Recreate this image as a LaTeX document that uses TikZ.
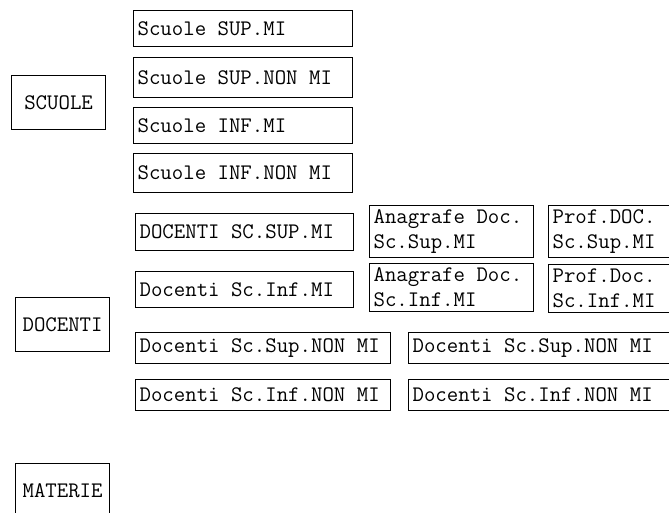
\documentclass[tikz,border=0pt]{standalone}
\begin{document}
\begin{tikzpicture}[x=1pt,y=-1pt,
  box/.style={draw,line width=1.2pt,rectangle,anchor=north west,
    inner xsep=4pt,inner ysep=0pt,align=flush left,
    font=\ttfamily\fontsize{22.2}{25}\selectfont},
  mainbox/.style={box,align=flush center,text width=86pt,minimum height=54pt}]
\useasboundingbox (0,0) rectangle (669,513);
\clip (0,0) rectangle (669,513);

\node[mainbox] (scuole) at (11,75) {SCUOLE};
\node[mainbox] (docenti) at (15,297) {DOCENTI};
\node[mainbox] (materie) at (15,463) {MATERIE};

\node[box,text width=211pt,minimum height=36pt] (s1) at (133,10) {Scuole SUP.MI};
\node[box,text width=211pt,minimum height=40pt] (s2) at (133,57) {Scuole SUP.NON MI};
\node[box,text width=211pt,minimum height=36pt] (s3) at (133,107) {Scuole INF.MI};
\node[box,text width=211pt,minimum height=39pt] (s4) at (133,153) {Scuole INF.NON MI};

\node[box,text width=210pt,minimum height=37pt] (d1) at (135,213) {DOCENTI SC.SUP.MI};
\node[box,text width=210pt,minimum height=36pt] (d2) at (135,271) {Docenti Sc.Inf.MI};
\node[box,text width=156pt,minimum height=52pt] (a1) at (369,205) {Anagrafe Doc.\\Sc.Sup.MI};
\node[box,text width=156pt,minimum height=48pt] (a2) at (369,263) {Anagrafe Doc.\\Sc.Inf.MI};
\node[box,text width=140pt,minimum height=52pt] (p1) at (548,205) {Prof.DOC.\\Sc.Sup.MI};
\node[box,text width=140pt,minimum height=48pt] (p2) at (548,264) {Prof.Doc.\\Sc.Inf.MI};

\node[box,text width=247pt,minimum height=31pt] (n1) at (135,332) {Docenti Sc.Sup.NON MI};
\node[box,text width=280pt,minimum height=31pt] (n2) at (408,332) {Docenti Sc.Sup.NON MI};
\node[box,text width=247pt,minimum height=31pt] (n3) at (135,379) {Docenti Sc.Inf.NON MI};
\node[box,text width=280pt,minimum height=31pt] (n4) at (408,379) {Docenti Sc.Inf.NON MI};
\end{tikzpicture}
\end{document}
